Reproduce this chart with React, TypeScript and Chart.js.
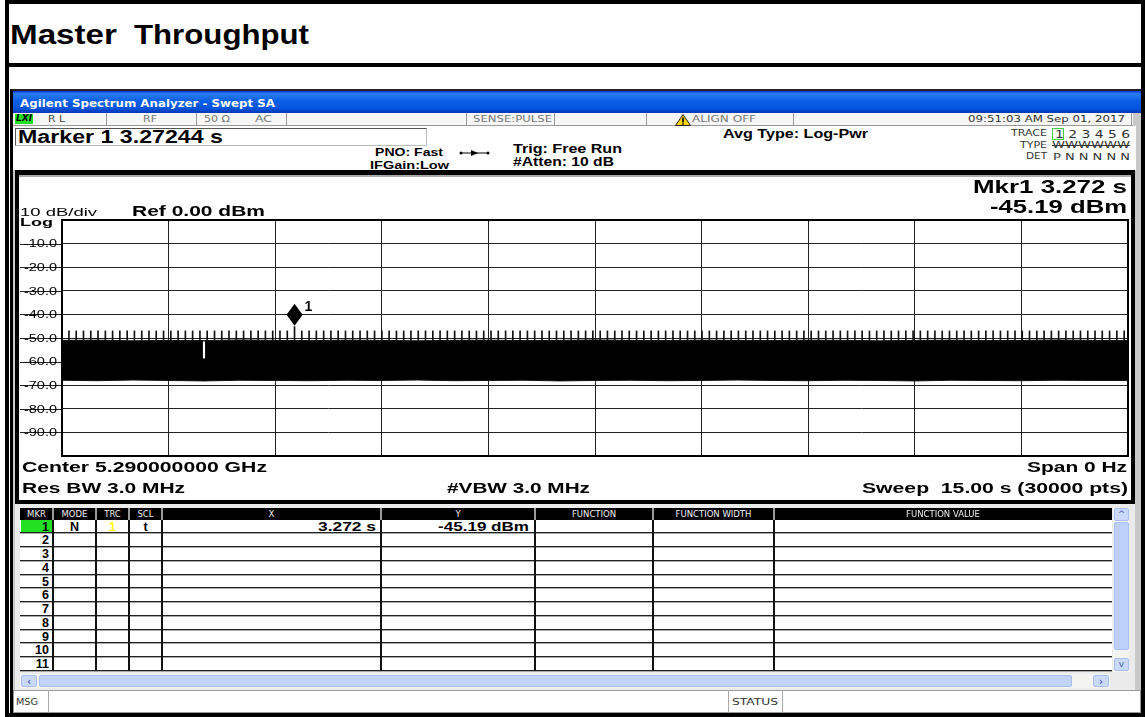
import React, { useEffect, useRef } from 'react';
import { Chart, registerables } from 'chart.js';
Chart.register(...registerables);

// ---------------- data ----------------
const sweepRange = [0, 15]; // seconds (span 0 Hz, 15 s sweep)
const levelRange = [-100, 0]; // dBm
const timeDivision = 1.5;
const levelDivision = 10;
const levelTicks = [-10, -20, -30, -40, -50, -60, -70, -80, -90];

const bandTimes = [0, 0.5, 1, 1.5, 2, 2.5, 3, 3.5, 4, 4.5, 5, 5.5, 6, 6.5, 7, 7.5, 8, 8.5, 9, 9.5, 10, 10.5, 11, 11.5, 12, 12.5, 13, 13.5, 14, 14.5, 15];
const bandTop = [-51.0, -50.9, -51.2, -51.0, -51.1, -50.8, -51.0, -51.1, -50.9, -51.0, -51.2, -51.0, -50.9, -51.1, -51.0, -50.8, -51.0, -51.1, -50.9, -51.0, -51.1, -50.9, -51.0, -51.2, -51.0, -50.9, -51.1, -51.0, -50.8, -51.0, -51.1];
const bandBottom = [-67.9, -68.1, -67.8, -68.0, -68.2, -67.9, -68.0, -68.1, -67.9, -68.0, -67.8, -68.1, -68.0, -67.9, -68.2, -68.0, -67.9, -68.1, -68.0, -67.8, -68.0, -68.1, -67.9, -68.0, -68.2, -67.9, -68.0, -68.1, -67.9, -68.0, -68.0];

// beacon bursts (s)
const beaconTimes = [
  0.098, 0.200, 0.302, 0.405, 0.507, 0.610, 0.712, 0.814, 0.917, 1.019,
  1.122, 1.224, 1.326, 1.429, 1.531, 1.634, 1.736, 1.838, 1.941, 2.043,
  2.146, 2.248, 2.350, 2.453, 2.555, 2.658, 2.760, 2.862, 2.965, 3.067,
  3.170, 3.272, 3.374, 3.477, 3.579, 3.682, 3.784, 3.886, 3.989, 4.091,
  4.194, 4.296, 4.398, 4.501, 4.603, 4.706, 4.808, 4.910, 5.013, 5.115,
  5.218, 5.320, 5.422, 5.525, 5.627, 5.730, 5.832, 5.934, 6.037, 6.139,
  6.242, 6.344, 6.446, 6.549, 6.651, 6.754, 6.856, 6.958, 7.061, 7.163,
  7.266, 7.368, 7.470, 7.573, 7.675, 7.778, 7.880, 7.982, 8.085, 8.187,
  8.290, 8.392, 8.494, 8.597, 8.699, 8.802, 8.904, 9.006, 9.109, 9.211,
  9.314, 9.416, 9.518, 9.621, 9.723, 9.826, 9.928, 10.030, 10.133, 10.235,
  10.338, 10.440, 10.542, 10.645, 10.747, 10.850, 10.952, 11.054, 11.157, 11.259,
  11.362, 11.464, 11.566, 11.669, 11.771, 11.874, 11.976, 12.078, 12.181, 12.283,
  12.386, 12.488, 12.590, 12.693, 12.795, 12.898, 13.000, 13.102, 13.205, 13.307,
  13.410, 13.512, 13.614, 13.717, 13.819, 13.922, 14.024, 14.126, 14.229, 14.331,
  14.434, 14.536, 14.638, 14.741, 14.843, 14.946,
];
const beaconBase = -51.5;
const beaconPeak = -47.0;

const dropoutTime = 1.998;
const dropoutRange = [-51.6, -58.5];

const markerTimeExact = 3.27244;
const markerLevel = -45.19;

const tableColumns = ['MKR', 'MODE', 'TRC', 'SCL', 'X', 'Y', 'FUNCTION', 'FUNCTION WIDTH', 'FUNCTION VALUE'];
const markerRows = ['1', '2', '3', '4', '5', '6', '7', '8', '9', '10', '11'];
const traceNumbers = ['1', '2', '3', '4', '5', '6'];

// ---------------- layout helpers ----------------
const mctx = document.createElement('canvas').getContext('2d') as CanvasRenderingContext2D;

type TP = {
  x: number; b: number; w?: number; s: number; bold?: boolean; fam?: string; color?: string;
  right?: boolean; center?: boolean; children: string; italic?: boolean; deco?: string;
};
function T({ x, b, w, s, bold, fam = 'Liberation Sans', color = '#000', right, center, children, italic, deco }: TP) {
  const font = `${italic ? 'italic ' : ''}${bold ? 'bold ' : ''}${s}px "${fam}"`;
  mctx.font = font;
  const mw = mctx.measureText(children).width || 1;
  const sx = w ? w / mw : 1;
  const width = mw * sx;
  const left = right ? x - width : center ? x - width / 2 : x;
  return (
    <div
      style={{
        position: 'absolute', left, top: b - 0.85 * s, font, lineHeight: `${s}px`, whiteSpace: 'pre',
        color, transform: `scaleX(${sx})`, transformOrigin: '0 0', textDecoration: deco,
      }}
    >
      {children}
    </div>
  );
}

function R({ l, t, w, h, st }: { l: number; t: number; w: number; h: number; st?: React.CSSProperties }) {
  return <div style={{ position: 'absolute', left: l, top: t, width: w, height: h, boxSizing: 'border-box', ...st }} />;
}

// ---------------- chart ----------------
function SweepChart() {
  const ref = useRef<HTMLCanvasElement | null>(null);
  useEffect(() => {
    const overlay = {
      id: 'saOverlay',
      afterDraw(chart: any) {
        const { ctx, chartArea: a } = chart;
        const x = chart.scales.x;
        const y = chart.scales.y;
        ctx.save();
        ctx.strokeStyle = '#222';
        ctx.lineWidth = 1;
        levelTicks.forEach((v) => {
          const py = Math.round(y.getPixelForValue(v)) + 0.5;
          ctx.beginPath();
          ctx.moveTo(0, py);
          ctx.lineTo(a.left, py);
          ctx.stroke();
        });
        ctx.fillStyle = '#000';
        ctx.font = '10px "Liberation Sans"';
        ctx.textAlign = 'right';
        ctx.textBaseline = 'middle';
        levelTicks.forEach((v) => {
          const py = y.getPixelForValue(v);
          ctx.save();
          ctx.translate(a.left - 5, py + 1);
          ctx.scale(1.45, 1);
          ctx.fillText(v.toFixed(1), 0, 0);
          ctx.restore();
        });
        ctx.lineWidth = 2;
        ctx.strokeStyle = '#000';
        ctx.strokeRect(a.left, a.top, a.right - a.left, a.bottom - a.top);
        // marker diamond
        const mx = x.getPixelForValue(markerTimeExact);
        const tip = y.getPixelForValue(markerLevel) - 1;
        ctx.beginPath();
        ctx.moveTo(mx, tip);
        ctx.lineTo(mx + 8, tip - 11);
        ctx.lineTo(mx, tip - 22);
        ctx.lineTo(mx - 8, tip - 11);
        ctx.closePath();
        ctx.fill();
        ctx.font = 'bold 14px "Liberation Sans"';
        ctx.textAlign = 'left';
        ctx.textBaseline = 'alphabetic';
        ctx.fillText('1', mx + 10, tip - 15);
        ctx.restore();
      },
    };

    const chart = new Chart(ref.current as HTMLCanvasElement, {
      type: 'line',
      data: {
        datasets: [
          {
            type: 'line',
            data: bandTimes.map((t, i) => ({ x: t, y: bandTop[i] })),
            borderColor: '#111', borderWidth: 1, backgroundColor: '#000', fill: '+1',
            pointRadius: 0, tension: 0, order: 4,
          },
          {
            type: 'line',
            data: bandTimes.map((t, i) => ({ x: t, y: bandBottom[i] })),
            borderColor: '#111', borderWidth: 1, backgroundColor: '#000', fill: false,
            pointRadius: 0, tension: 0, order: 3,
          },
          {
            type: 'bar',
            data: beaconTimes.map((t) => ({
              x: t,
              y: [beaconBase, Math.abs(t - markerTimeExact) < 0.01 ? markerLevel : beaconPeak],
            })),
            backgroundColor: '#111', barThickness: 1, grouped: false, order: 2,
          },
          {
            type: 'bar',
            data: [{ x: dropoutTime, y: dropoutRange }],
            backgroundColor: '#fff', barThickness: 1.5, grouped: false, order: 1,
          },
        ] as any,
      },
      options: {
        animation: false,
        responsive: false,
        maintainAspectRatio: false,
        events: [],
        layout: { padding: { left: 42, top: 45, right: 2, bottom: 41 } },
        plugins: { legend: { display: false }, tooltip: { enabled: false } },
        scales: {
          x: {
            type: 'linear', min: sweepRange[0], max: sweepRange[1], offset: false,
            ticks: { display: false, stepSize: timeDivision },
            grid: { color: '#222', lineWidth: 1, drawTicks: false, offset: false },
            border: { display: false },
            afterFit: (s: any) => { s.height = 0; },
          },
          y: {
            type: 'linear', min: levelRange[0], max: levelRange[1],
            ticks: { display: false, stepSize: levelDivision },
            grid: { color: '#222', lineWidth: 1, drawTicks: false },
            border: { display: false },
            afterFit: (s: any) => { s.width = 0; },
          },
        } as any,
      },
      plugins: [overlay],
    });
    return () => chart.destroy();
  }, []);
  return <canvas ref={ref} width={1110} height={322} style={{ position: 'absolute', left: 20, top: 175, width: 1110, height: 322 }} />;
}

// ---------------- page ----------------
const colEdges = [20, 53, 96, 129, 162, 381, 535, 653, 774, 1112];
const rowTop0 = 520;
const rowH = 13.75;

export default function App() {
  const markerX = `${markerTimeExact.toFixed(3)} s`;
  const markerY = `${markerLevel.toFixed(2)} dBm`;
  return (
    <div style={{ position: 'fixed', left: 0, top: 0, width: 1145, height: 717, background: '#fff', overflow: 'hidden' }}>
      {/* outer document frame */}
      <R l={5} t={0} w={1140} h={717} st={{ border: '4px solid #000' }} />
      <R l={5} t={63} w={1140} h={4} st={{ background: '#000' }} />
      <T x={10} b={45} w={107} s={27} bold>Master</T>
      <T x={134} b={45} w={175} s={27} bold>Throughput</T>

      {/* screenshot frame */}
      <R l={10} t={89} w={1131} h={624} st={{ background: '#c9c9c9', borderLeft: '3px solid #000', borderTop: '2px solid #222' }} />
      {/* title bar */}
      <R l={13} t={91} w={1128} h={22} st={{ background: 'linear-gradient(#0831d9 0%, #2a7cf5 12%, #0b5fe6 45%, #0453dc 80%, #0337b5 100%)' }} />
      <T x={20} b={107} w={255} s={11} bold fam="DejaVu Sans" color="#fff">Agilent Spectrum Analyzer - Swept SA</T>

      {/* status row */}
      <R l={13} t={113} w={1120} h={13} st={{ background: '#f6f6f6', borderBottom: '1px solid #999' }} />
      <R l={15} t={114} w={18} h={10} st={{ background: '#22e022' }} />
      <T x={16} b={122} w={16} s={8} bold italic fam="DejaVu Sans">LXI</T>
      {[106, 196, 286, 466, 554, 646, 793, 1131].map((sx) => (
        <R key={sx} l={sx} t={113} w={1} h={13} st={{ background: '#999' }} />
      ))}
      <T x={48} b={123} w={17} s={9} fam="DejaVu Sans" color="#444">R L</T>
      <T x={143} b={123} w={14} s={9} fam="DejaVu Sans" color="#777">RF</T>
      <T x={204} b={123} w={26} s={9} fam="DejaVu Sans" color="#777">50 Ω</T>
      <T x={255} b={123} w={17} s={9} fam="DejaVu Sans" color="#777">AC</T>
      <T x={473} b={123} w={79} s={9} fam="DejaVu Sans" color="#777">SENSE:PULSE</T>
      <svg style={{ position: 'absolute', left: 675, top: 114 }} width={16} height={12}>
        <polygon points="8,0.5 15.5,11.5 0.5,11.5" fill="#ffd400" stroke="#222" strokeWidth={1} />
        <rect x={7.2} y={3.5} width={1.6} height={5} fill="#000" />
        <rect x={7.2} y={9.3} width={1.6} height={1.4} fill="#000" />
      </svg>
      <T x={692} b={123} w={64} s={9} fam="DejaVu Sans" color="#777">ALIGN OFF</T>
      <T x={968} b={123} w={157} s={9} fam="DejaVu Sans" color="#333">09:51:03 AM Sep 01, 2017</T>

      {/* settings panel */}
      <R l={13} t={126} w={1123} h={44} st={{ background: '#fff' }} />
      <R l={15} t={128} w={412} h={18} st={{ border: '1px solid #555', borderRightColor: '#bbb', borderBottomColor: '#bbb' }} />
      <T x={18} b={143} w={205} s={18} bold>Marker 1 3.27244 s</T>
      <T x={375} b={156} w={68} s={10.5} bold>PNO: Fast</T>
      <T x={370} b={169} w={79} s={10.5} bold>IFGain:Low</T>
      <svg style={{ position: 'absolute', left: 459, top: 149 }} width={31} height={8}>
        <line x1={2} y1={4} x2={29} y2={4} stroke="#000" strokeWidth={1} />
        <circle cx={2} cy={4} r={1.5} fill="#000" />
        <circle cx={29} cy={4} r={1.5} fill="#000" />
        <polygon points="12,1 19,4 12,7" fill="#000" />
      </svg>
      <T x={513} b={153} w={109} s={13} bold>Trig: Free Run</T>
      <T x={513} b={166} w={101} s={12} bold>#Atten: 10 dB</T>
      <T x={723} b={138} w={145} s={12} bold>Avg Type: Log-Pwr</T>
      <T x={1047} b={137} w={36} s={9} right fam="DejaVu Sans" color="#333">TRACE</T>
      <T x={1047} b={149} w={27} s={9} right fam="DejaVu Sans" color="#333">TYPE</T>
      <T x={1047} b={160} w={21} s={9} right fam="DejaVu Sans" color="#333">DET</T>
      <R l={1052} t={128} w={12} h={12} st={{ border: '1px solid #4c4' }} />
      <T x={1055} b={138} w={75} s={10} fam="DejaVu Sans" color="#333">{traceNumbers.join(' ')}</T>
      <T x={1052} b={149} w={78} s={8} fam="DejaVu Sans" color="#333" deco="line-through">WWWWWW</T>
      <T x={1053} b={161} w={77} s={9} fam="DejaVu Sans" color="#333">P N N N N N</T>

      {/* graph panel */}
      <R l={15} t={170} w={1120} h={334} st={{ background: '#fff', border: '4px solid #000', borderTopWidth: 5 }} />
      <R l={19} t={175} w={1112} h={2} st={{ background: '#aaa' }} />
      <SweepChart />
      <T x={20} b={216} w={77} s={11}>10 dB/div</T>
      <T x={20} b={226} w={33} s={11} bold>Log</T>
      <T x={132} b={216} w={133} s={15} bold>Ref 0.00 dBm</T>
      <T x={1127} b={194} w={154} s={17.5} bold right>{`Mkr1 ${markerTimeExact.toFixed(3)} s`}</T>
      <T x={1127} b={214} w={137} s={17.5} bold right>{markerY}</T>
      <T x={22} b={472} w={245} s={14} bold>Center 5.290000000 GHz</T>
      <T x={22} b={493} w={163} s={14} bold>Res BW 3.0 MHz</T>
      <T x={447} b={493} w={143} s={14} bold>#VBW 3.0 MHz</T>
      <T x={1127} b={472} w={100} s={14} bold right>Span 0 Hz</T>
      <T x={1128} b={493} w={266} s={14} bold right>Sweep  15.00 s (30000 pts)</T>

      {/* marker table */}
      <R l={15} t={504} w={1120} h={186} st={{ background: '#ebebeb' }} />
      <R l={colEdges[0]} t={508} w={colEdges[9] - colEdges[0]} h={12} st={{ background: '#000' }} />
      {colEdges.slice(1, 9).map((cx) => (
        <R key={'hs' + cx} l={cx - 1} t={508} w={2} h={12} st={{ background: '#9a9a9a' }} />
      ))}
      {tableColumns.map((c, i) => (
        <T key={c} x={(colEdges[i] + colEdges[i + 1]) / 2} b={517.5} s={8.5} center fam="DejaVu Sans" color="#eee">{c}</T>
      ))}
      <R l={colEdges[0]} t={rowTop0} w={colEdges[9] - colEdges[0]} h={rowH * 11} st={{ background: '#fff' }} />
      <R l={colEdges[0] + 1} t={rowTop0} w={colEdges[1] - colEdges[0] - 2} h={rowH - 1} st={{ background: '#22e022' }} />
      {markerRows.map((m, i) => (
        <R key={'rl' + m} l={colEdges[0]} t={rowTop0 + (i + 1) * rowH - 1.5} w={colEdges[9] - colEdges[0]} h={2} st={{ borderTop: '1px solid #222', borderBottom: '1px solid #aaa' }} />
      ))}
      {colEdges.slice(1, 9).map((cx) => (
        <R key={'vl' + cx} l={cx - 1} t={rowTop0} w={2} h={rowH * 11} st={{ background: '#111' }} />
      ))}
      {markerRows.map((m, i) => (
        <T key={'mk' + m} x={49} b={rowTop0 + i * rowH + 11.3} s={12.5} bold right>{m}</T>
      ))}
      <T x={74.5} b={rowTop0 + 11.3} s={12.5} bold center>N</T>
      <T x={112.5} b={rowTop0 + 11.3} s={12.5} bold center color="#ffff00">1</T>
      <T x={145.5} b={rowTop0 + 11.3} s={12.5} bold center>t</T>
      <T x={376} b={rowTop0 + 11.3} w={58} s={12.5} bold right>{markerX}</T>
      <T x={529} b={rowTop0 + 11.3} w={91} s={12.5} bold right>{markerY}</T>

      {/* vertical scrollbar */}
      <R l={1113} t={508} w={16} h={164} st={{ background: '#f3f3f0' }} />
      <R l={1114} t={508} w={15} h={13} st={{ background: '#c9d8fb', border: '1px solid #a8bff0', borderRadius: 2 }} />
      <T x={1121.5} b={518} s={9} center fam="DejaVu Sans" color="#4a64b0">^</T>
      <R l={1114} t={522} w={15} h={128} st={{ background: '#bcd0fa', border: '1px solid #a8bff0', borderRadius: 2 }} />
      <R l={1114} t={658} w={15} h={13} st={{ background: '#c9d8fb', border: '1px solid #a8bff0', borderRadius: 2 }} />
      <T x={1121.5} b={668} s={9} center fam="DejaVu Sans" color="#4a64b0">v</T>
      {/* horizontal scrollbar */}
      <R l={20} t={674} w={1090} h={14} st={{ background: '#f3f3f0' }} />
      <R l={21} t={675} w={16} h={12} st={{ background: '#c9d8fb', border: '1px solid #a8bff0', borderRadius: 2 }} />
      <T x={29} b={685} s={10} center bold fam="DejaVu Sans" color="#4a64b0">‹</T>
      <R l={39} t={675} w={1033} h={12} st={{ background: '#c1d3fb', border: '1px solid #a8bff0', borderRadius: 2 }} />
      <R l={1093} t={675} w={16} h={12} st={{ background: '#c9d8fb', border: '1px solid #a8bff0', borderRadius: 2 }} />
      <T x={1101} b={685} s={10} center bold fam="DejaVu Sans" color="#4a64b0">›</T>

      {/* message bar */}
      <R l={13} t={690} w={1128} h={23} st={{ background: '#fff', border: '1px solid #999' }} />
      <R l={48} t={690} w={1} h={23} st={{ background: '#aaa' }} />
      <R l={728} t={690} w={1} h={23} st={{ background: '#aaa' }} />
      <R l={782} t={690} w={1} h={23} st={{ background: '#aaa' }} />
      <T x={16} b={706} w={22} s={9} fam="DejaVu Sans" color="#333">MSG</T>
      <T x={732} b={706} w={46} s={9} fam="DejaVu Sans" color="#333">STATUS</T>
    </div>
  );
}
